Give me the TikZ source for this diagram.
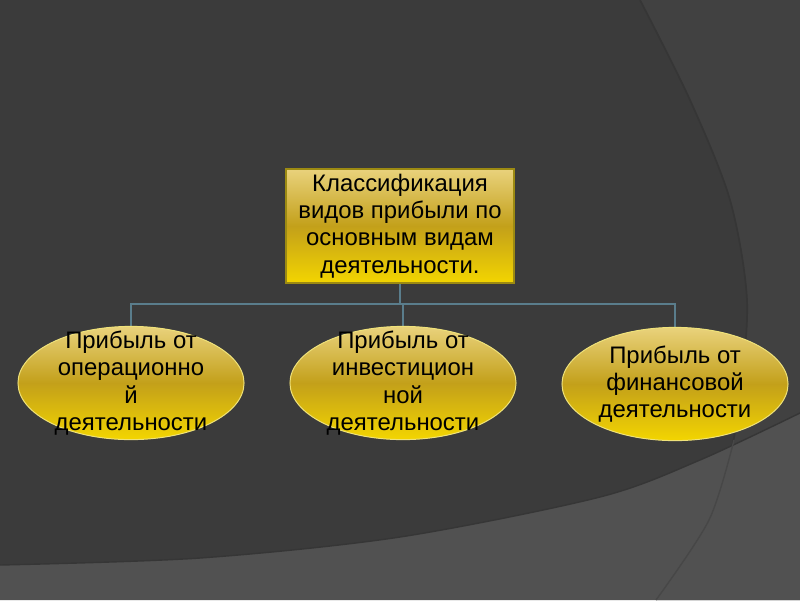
\documentclass[tikz,border=0pt]{standalone}
\usepackage{fontspec}
\setmainfont{Liberation Sans}
\usepackage{tikz}
\usetikzlibrary{shapes.geometric,backgrounds,positioning}

\definecolor{slate}{HTML}{3B3B3B}
\definecolor{slateright}{HTML}{414141}
\definecolor{slateband}{HTML}{515151}
\definecolor{slateedge}{HTML}{363636}
\definecolor{bandline}{HTML}{474747}
\definecolor{goldtop}{HTML}{E9D27C}
\definecolor{goldmid}{HTML}{C3A01A}
\definecolor{goldbot}{HTML}{F3D500}
\definecolor{goldedge}{HTML}{9C8A12}
\definecolor{paleedge}{HTML}{EFE27A}
\definecolor{linkblue}{HTML}{5A7D8C}

\begin{document}
\begin{tikzpicture}[x=0.025cm,y=-0.025cm]
  \tikzset{
    head/.style={rectangle, draw=goldedge, line width=0.8pt, top color=goldtop, bottom color=goldbot, middle color=goldmid, minimum width=5.7cm, minimum height=2.85cm, inner sep=0pt, align=center, font=\fontsize{17}{19.4}\selectfont},
    kind/.style={ellipse, draw=paleedge, line width=0.7pt, top color=goldtop, bottom color=goldbot, middle color=goldmid, minimum width=5.65cm, minimum height=2.83cm, inner sep=0pt},
    caption/.style={align=center, inner sep=0pt, font=\fontsize{17}{19.4}\selectfont, text=black},
    link/.style={draw=linkblue, line width=1.3pt}
  }

  \useasboundingbox (0,0) rectangle (800,600);

  % Top box
  \node[head] (root) at (400,226) {Классификация\\видов прибыли по\\основным видам\\деятельности.};

  % Kinds of profit
  \node[kind] (op) at (131,383) {};
  \node[caption] (opText) at (op.center) {Прибыль от\\операционно\\й\\деятельности};

  \node[kind] (inv) at (403,383) {};
  \node[caption] (invText) at (inv.center) {Прибыль от\\инвестицион\\ной\\деятельности};

  \node[kind] (fin) at (675,384) {};
  \node[caption] (finText) at (fin.center) {Прибыль от\\финансовой\\деятельности};

  \begin{scope}[on background layer]
    % Slide background
    \fill[slate] (0,0) rectangle (800,600);
    \fill[slateright] plot[smooth] coordinates {(640,0) (690,100) (730,200) (747,300) (740,400) (732,447) (709,520) (656,600)}
      -- (800,600) -- (800,0) -- cycle;
    \draw[slateedge, line width=1.2pt] plot[smooth] coordinates {(640,0) (690,100) (730,200) (747,300) (740,400) (732,447)};
    \fill[slateband] plot[smooth] coordinates {(0,565) (200,558) (400,537) (600,497) (700,460) (800,413)}
      -- (800,600) -- (0,600) -- cycle;
    \draw[slateedge, line width=1pt] plot[smooth] coordinates {(0,565) (200,558) (400,537) (600,497) (700,460) (800,413)};
    \draw[bandline, line width=1pt] plot[smooth] coordinates {(734,440) (709,520) (656,600)};

    % Connectors
    \coordinate (bus) at (400,304);
    \draw[link] (root.south) -- (bus);
    \draw[link] (bus) -| (op.north);
    \draw[link] (bus) -| (fin.north);
    \draw[link] (bus -| inv.north) -- (inv.north);
  \end{scope}
\end{tikzpicture}
\end{document}
